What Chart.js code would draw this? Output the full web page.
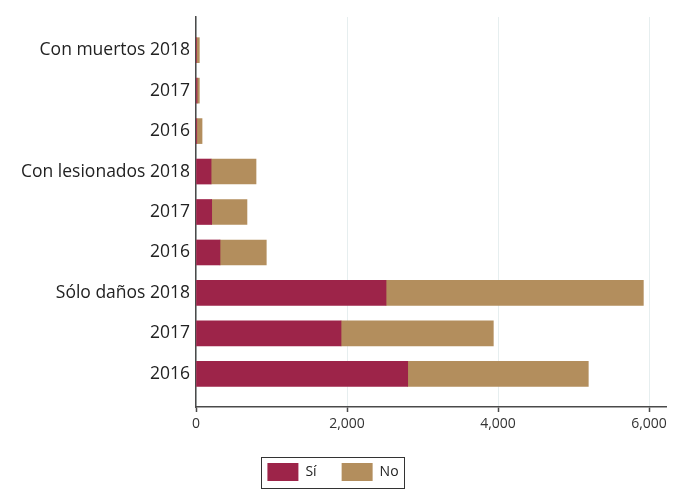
<!DOCTYPE html>
<html>
<head>
<meta charset="utf-8">
<script src="https://cdn.jsdelivr.net/npm/chart.js@4/dist/chart.umd.min.js"></script>
<style>
  html, body { margin: 0; padding: 0; background: #fff; }
  #wrap { width: 685px; height: 496px; position: relative; }
</style>
</head>
<body>
<div id="wrap"><canvas id="chart"></canvas></div>
<script>
// --- Datos ---
const categories = [
  'Con muertos 2018', '2017', '2016',
  'Con lesionados 2018', '2017', '2016',
  'Sólo daños 2018', '2017', '2016'
];
const siValues = [8, 14, 10, 200, 208, 318, 2517, 1921, 2804];
const noValues = [36, 30, 70, 595, 467, 613, 3408, 2017, 2392];
const xTicks = [0, 2000, 4000, 6000];
const seriesNames = ['Sí', 'No'];

// --- Colores ---
const colors = {
  si: '#9d2449',
  no: '#b38e5d',
  axis: '#4a4a4a',
  grid: '#e6eeef',
  text: '#222222'
};

const FONT = '"Open Sans", "Noto Sans", sans-serif';

// Marco alrededor de la leyenda
const legendFrame = {
  id: 'legendFrame',
  afterDraw(chart) {
    const boxes = chart.legend && chart.legend.legendHitBoxes;
    if (!boxes || !boxes.length) return;
    const left = Math.min(...boxes.map(b => b.left)) - 6;
    const right = Math.max(...boxes.map(b => b.left + b.width)) + 6;
    const top = boxes[0].top - 6;
    const bottom = boxes[0].top + boxes[0].height + 7;
    const ctx = chart.ctx;
    ctx.save();
    ctx.strokeStyle = '#333';
    ctx.lineWidth = 1;
    ctx.strokeRect(Math.round(left) + 0.5, Math.round(top) + 0.5, Math.round(right - left), Math.round(bottom - top));
    ctx.restore();
  }
};

const ctx = document.getElementById('chart').getContext('2d');
new Chart(ctx, {
  type: 'bar',
  data: {
    datasets: [
      {
        label: seriesNames[0],
        data: siValues.map((v, i) => ({ x: v, y: i })),
        backgroundColor: colors.si,
        borderWidth: 0,
        barThickness: 25
      },
      {
        label: seriesNames[1],
        data: noValues.map((v, i) => ({ x: v, y: i })),
        backgroundColor: colors.no,
        borderWidth: 0,
        barThickness: 25
      }
    ]
  },
  options: {
    indexAxis: 'y',
    responsive: true,
    maintainAspectRatio: false,
    animation: false,
    layout: { padding: { top: 17, right: 19, left: 0, bottom: 5 } },
    plugins: {
      tooltip: { enabled: false },
      legend: {
        position: 'bottom',
        labels: {
          boxWidth: 31, boxHeight: 18, padding: 25,
          color: colors.text,
          font: { family: FONT, size: 14 }
        }
      }
    },
    scales: {
      x: {
        type: 'linear',
        stacked: true,
        min: 0, max: 6225,
        afterBuildTicks: (s) => { s.ticks = xTicks.map(v => ({ value: v })); },
        afterFit: (s) => { s.height = 31; },
        border: { display: true, color: colors.axis, width: 1.5 },
        grid: { color: colors.grid, lineWidth: 1, tickLength: 5, tickColor: colors.axis, tickWidth: 1.5 },
        ticks: {
          color: '#333', padding: 4,
          font: { family: FONT, size: 14 },
          callback: (v) => v.toLocaleString('en-US')
        }
      },
      y: {
        type: 'linear',
        stacked: true,
        reverse: true,
        offset: false,
        min: -0.82, max: 8.82,
        afterBuildTicks: (s) => { s.ticks = categories.map((_, i) => ({ value: i })); },
        afterFit: (s) => { s.width = 196; },
        border: { display: true, color: colors.axis, width: 1.5 },
        grid: { display: false, drawTicks: false, tickLength: 0 },
        ticks: {
          color: colors.text, padding: 6,
          font: { family: FONT, size: 17.5 },
          callback: (v) => categories[v]
        }
      }
    }
  },
  plugins: [legendFrame]
});
</script>
</body>
</html>
